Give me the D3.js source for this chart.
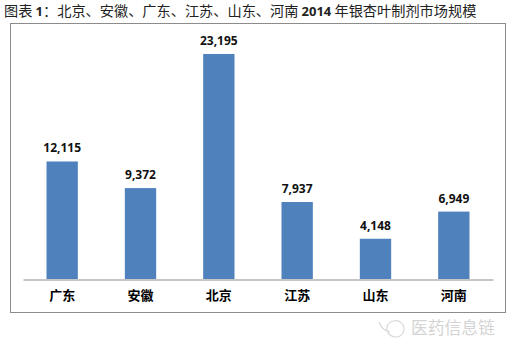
<!DOCTYPE html>
<html>
<head>
<meta charset="utf-8">
<script src="https://cdnjs.cloudflare.com/ajax/libs/d3/7.8.5/d3.min.js"></script>
<style>
  html, body { margin: 0; padding: 0; background: #fff; }
  svg { display: block; }
</style>
</head>
<body>
<div id="chart"></div>
<script>
const provinces = ["广东", "安徽", "北京", "江苏", "山东", "河南"];
const marketSize = [12115, 9372, 23195, 7937, 4148, 6949];
const title = ["图表 ", "1", "：北京、安徽、广东、江苏、山东、河南 ", "2014", " 年银杏叶制剂市场规模"];
const watermark = "医药信息链";

const cjk = "'Noto Sans CJK SC', sans-serif";
const latin = "'Open Sans', 'DejaVu Sans', sans-serif";

const svg = d3.select("#chart")
  .append("svg")
  .attr("width", 510)
  .attr("height", 353);

// Title line
svg.append("text")
  .attr("x", 4)
  .attr("y", 16)
  .attr("font-family", cjk)
  .attr("font-size", 14.2)
  .attr("fill", "#222")
  .style("white-space", "pre")
  .selectAll("tspan")
  .data(title)
  .enter()
  .append("tspan")
  .attr("font-family", (d, i) => i % 2 ? latin : cjk)
  .attr("font-weight", (d, i) => i % 2 ? 700 : 400)
  .attr("font-size", (d, i) => i % 2 ? 13 : 14.2)
  .text(d => d);

// Chart frame
svg.append("rect")
  .attr("x", 10.5)
  .attr("y", 23.5)
  .attr("width", 495)
  .attr("height", 289)
  .attr("fill", "#fff")
  .attr("stroke", "#8c8c8c")
  .attr("stroke-width", 1);

const xScale = d3.scaleBand()
  .domain(provinces)
  .range([23, 493])
  .paddingInner(0.6)
  .paddingOuter(0.3);

const yScale = d3.scaleLinear()
  .domain([0, 23195])
  .range([279, 54]);

const data = provinces.map((p, i) => ({ province: p, value: marketSize[i] }));

// Bars
svg.selectAll(".bar")
  .data(data)
  .enter()
  .append("rect")
  .attr("class", "bar")
  .attr("x", d => xScale(d.province))
  .attr("y", d => yScale(d.value))
  .attr("width", xScale.bandwidth())
  .attr("height", d => yScale(0) - yScale(d.value))
  .attr("fill", "#4f81bd");

// Value labels
svg.selectAll(".label")
  .data(data)
  .enter()
  .append("text")
  .attr("class", "label")
  .attr("x", d => xScale(d.province) + xScale.bandwidth() / 2)
  .attr("y", d => yScale(d.value) - 9)
  .attr("text-anchor", "middle")
  .attr("font-family", latin)
  .attr("font-weight", 700)
  .attr("font-size", 12)
  .attr("fill", "#111")
  .text(d => d3.format(",")(d.value));

// Category axis
const xAxis = d3.axisBottom(xScale).tickSize(0).tickPadding(11);

const axisG = svg.append("g")
  .attr("transform", "translate(0, 279.5)")
  .call(xAxis);

axisG.select(".domain")
  .attr("stroke", "#8c8c8c");

axisG.selectAll("text")
  .attr("font-family", cjk)
  .attr("font-weight", 700)
  .attr("font-size", 13)
  .attr("fill", "#000");

// Watermark
const mark = svg.append("g")
  .attr("fill", "none")
  .attr("stroke", "#d8d8d8")
  .attr("stroke-width", 1.2);

mark.append("path")
  .attr("d", "M379 322 C381 328 385 331 390 332");

mark.append("path")
  .attr("d", "M387 327 C389 320 399 318 403 325 C406 331 402 337 396 337 C391 337 386 333 387 327 Z");

svg.append("text")
  .attr("x", 411)
  .attr("y", 334)
  .attr("font-family", cjk)
  .attr("font-size", 16.8)
  .attr("fill", "#d4d4d4")
  .text(watermark);
</script>
</body>
</html>
